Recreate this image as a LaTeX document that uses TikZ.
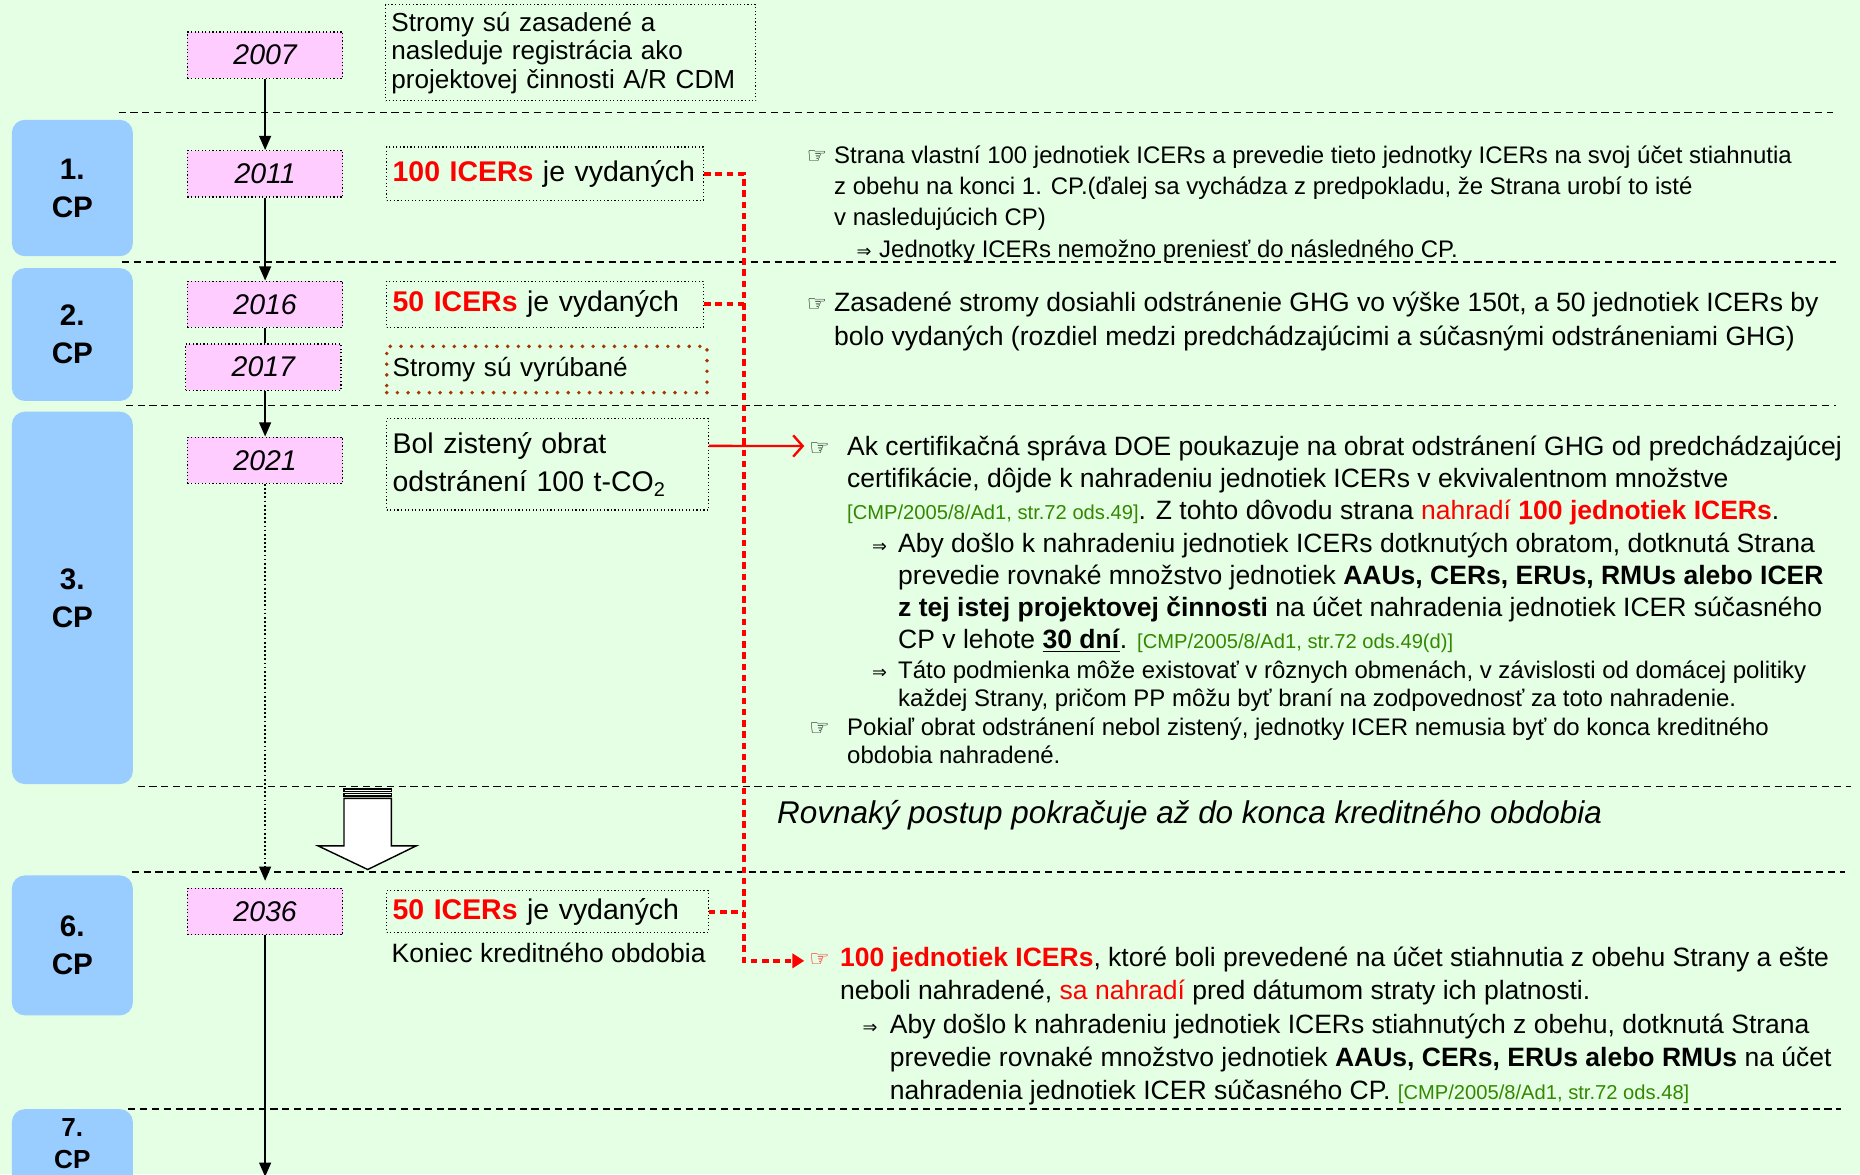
\documentclass[tikz,border=0pt]{standalone}
\usepackage{fontspec}
\setmainfont{Liberation Sans}
\newfontfamily\symfont{DejaVu Sans}
\usetikzlibrary{arrows.meta,calc}
\definecolor{bg}{RGB}{228,255,228}
\definecolor{cpblue}{RGB}{153,204,255}
\definecolor{yearpink}{RGB}{255,204,255}
\definecolor{refgreen}{RGB}{51,136,0}
\definecolor{cutbrown}{RGB}{165,55,0}
\definecolor{icerred}{RGB}{255,0,0}
\newcommand\cmpref[1]{{\fontsize{17}{20}\selectfont\color{refgreen}#1}}
\newcommand\redtxt[1]{{\color{icerred}#1}}
\newcommand\hand{{\symfont\fontsize{19}{20}\selectfont ☞}}
\newcommand\implies{{\symfont\fontsize{15}{18}\selectfont ⇒}}

\begin{document}
\begin{tikzpicture}[x=1pt,y=-1pt,
  cpbox/.style={fill=cpblue,rounded corners=11pt,minimum width=102pt,align=center,
    font=\fontsize{25}{32}\selectfont\bfseries,inner sep=0pt},
  yearbox/.style={draw,dotted,line width=1pt,fill=yearpink,minimum width=131pt,minimum height=39pt,
    inner sep=0pt,font=\fontsize{24}{28}\selectfont\itshape},
  infobox/.style={draw,dotted,line width=1pt,align=left,inner xsep=5pt,inner ysep=0pt},
  sepline/.style={dash pattern=on 6pt off 4pt,line width=1.3pt},
  tl/.style={line width=1.5pt,-{Triangle[length=12pt,width=10pt]}},
  reddot/.style={icerred,line width=3.5pt,dash pattern=on 5.5pt off 4pt},
  ln/.style={anchor=base west,inner sep=0pt,font=\fontsize{22.35}{26}\selectfont},
  lns/.style={anchor=base west,inner sep=0pt,font=\fontsize{20.2}{24}\selectfont},
  sym/.style={anchor=base west,inner sep=0pt}]

% page and background
\fill[bg] (0,0) rectangle (1568,990);
\useasboundingbox (0,0) rectangle (1568,990);
\clip (0,0) rectangle (1568,990);

% period separators
\draw[sepline] (100,95) -- (1545,95);
\draw[sepline] (103,221) -- (1548,221);
\draw[sepline] (106,342) -- (1548,342);
\draw[sepline] (116,663) -- (1560,663);
\draw[sepline] (111,735) -- (1555,735);
\draw[sepline] (108,935) -- (1552,935);

% commitment periods
\node[cpbox,minimum height=115pt] (cp1) at (61,158.5) {1.\\CP};
\node[cpbox,minimum height=112pt] (cp2) at (61,282) {2.\\CP};
\node[cpbox,minimum height=314pt] (cp3) at (61,504) {3.\\CP};
\node[cpbox,minimum height=118pt] (cp6) at (61,797) {6.\\CP};
\node[cpbox,minimum height=80pt] (cp7) at (61,975) {};
\node[align=center,inner sep=0pt,font=\fontsize{22}{27}\selectfont\bfseries] (cp7t) at (61,964) {7.\\CP};

% years
\node[yearbox] (y2007) at (223.5,46.5) {2007};
\node[yearbox] (y2011) at (223.5,146.5) {2011};
\node[yearbox] (y2016) at (223.5,256.5) {2016};
\node[yearbox] (y2017) at (222,309.5) {2017};
\node[yearbox] (y2021) at (223.5,388) {2021};
\node[yearbox] (y2036) at (223.5,768.5) {2036};
\coordinate (tlend) at (223.5,992);

% time line
\draw[tl] (y2007) -- (y2011);
\draw[tl] (y2011) -- (y2016);
\draw[line width=1.5pt] (y2016.south) -- (y2016.south |- y2017.north);
\draw[tl] (y2017.south -| y2021.north) -- (y2021);
\draw[tl,dotted,line width=1.5pt,shorten >=6pt] (y2021) -- (y2036);
\draw[tl] (y2036) -- (tlend);

% events
\node[infobox,minimum width=312pt,minimum height=81pt,text width=302pt,
  font=\fontsize{22}{24}\selectfont] (tplant) at (481,44.5)
  {Stromy sú zasadené a\\nasleduje registrácia ako\\projektovej činnosti A/R CDM};
\node[infobox,minimum width=267pt,minimum height=45pt,text width=257pt,
  font=\fontsize{24}{28}\selectfont] (ticer1) at (459.5,146.5)
  {\redtxt{\textbf{100 ICERs}} je vydaných};
\node[infobox,minimum width=267pt,minimum height=39pt,text width=257pt,
  font=\fontsize{24}{28}\selectfont] (ticer2) at (459.5,256.5)
  {\redtxt{\textbf{50 ICERs}} je vydaných};
\node[infobox,draw=cutbrown,line width=3.3pt,dash pattern=on 0pt off 9pt,line cap=round,
  minimum width=270pt,minimum height=39pt,text width=260pt,
  font=\fontsize{22}{26}\selectfont] (tcut) at (461,311.5)
  {Stromy sú vyrúbané};
\node[infobox,minimum width=271pt,minimum height=77pt,text width=261pt,
  font=\fontsize{24}{32}\selectfont] (trev) at (461.5,391.5)
  {Bol zistený obrat\\odstránení 100 t-CO\textsubscript{2}};
\node[infobox,minimum width=271pt,minimum height=35pt,text width=261pt,
  font=\fontsize{24}{28}\selectfont] (ticer6) at (461.5,768.5)
  {\redtxt{\textbf{50 ICERs}} je vydaných};
\node[ln] (tend) at (330,811) {Koniec kreditného obdobia};

% flow arrow between the periods
\draw[fill=white,line width=1.2pt] (290,665) rectangle (330,667);
\draw[fill=white,line width=1.2pt] (290,669) rectangle (330,671);
\draw[fill=white,line width=1.2pt] (290,673) -- (330,673) -- (330,713) -- (351,713)
  -- (310,733) -- (268,713) -- (290,713) -- cycle;

% block 1
\node[sym] (h1) at (680,138) {\hand};
\node[lns] (b1a) at (703,138) {Strana vlastní 100 jednotiek ICERs a prevedie tieto jednotky ICERs na svoj účet stiahnutia};
\node[lns] (b1b) at (703,164) {z obehu na konci 1. CP.(ďalej sa vychádza z predpokladu, že Strana urobí to isté};
\node[lns] (b1c) at (703,190) {v nasledujúcich CP)};
\node[sym] (i1) at (722,217) {\implies};
\node[lns] (b1d) at (741,217) {Jednotky ICERs nemožno preniesť do následného CP.};

% block 2
\node[sym] (h2) at (680,263) {\hand};
\node[ln] (b2a) at (703,263) {Zasadené stromy dosiahli odstránenie GHG vo výške 150t, a 50 jednotiek ICERs by};
\node[ln] (b2b) at (703,291) {bolo vydaných (rozdiel medzi predchádzajúcimi a súčasnými odstráneniami GHG)};

% block 3
\node[sym] (h3) at (682,384) {\hand};
\node[ln] (b3a) at (714,384) {Ak certifikačná správa DOE poukazuje na obrat odstránení GHG od predchádzajúcej};
\node[ln] (b3b) at (714,411) {certifikácie, dôjde k nahradeniu jednotiek ICERs v ekvivalentnom množstve};
\node[ln] (b3c) at (714,438) {\cmpref{[CMP/2005/8/Ad1, str.72 ods.49]}. Z tohto dôvodu strana \redtxt{nahradí \textbf{100 jednotiek ICERs}}.};
\node[sym] (i2) at (735,466) {\implies};
\node[ln] (b3d) at (757,466) {Aby došlo k nahradeniu jednotiek ICERs dotknutých obratom, dotknutá Strana};
\node[ln] (b3e) at (757,493) {prevedie rovnaké množstvo jednotiek \textbf{AAUs, CERs, ERUs, RMUs alebo ICER}};
\node[ln] (b3f) at (757,520) {\textbf{z tej istej projektovej činnosti} na účet nahradenia jednotiek ICER súčasného};
\node[ln] (b3g) at (757,547) {CP v lehote \underline{\textbf{30 dní}}. \cmpref{[CMP/2005/8/Ad1, str.72 ods.49(d)]}};
\node[sym] (i3) at (735,572) {\implies};
\node[lns] (b3h) at (757,572) {Táto podmienka môže existovať v rôznych obmenách, v závislosti od domácej politiky};
\node[lns] (b3i) at (757,596) {každej Strany, pričom PP môžu byť braní na zodpovednosť za toto nahradenie.};
\node[sym] (h4) at (682,620) {\hand};
\node[lns] (b3j) at (714,620) {Pokiaľ obrat odstránení nebol zistený, jednotky ICER nemusia byť do konca kreditného};
\node[lns] (b3k) at (714,644) {obdobia nahradené.};

% continuation note
\node[anchor=base west,inner sep=0pt,font=\fontsize{26.5}{30}\selectfont\itshape] (cont) at (655,694)
  {Rovnaký postup pokračuje až do konca kreditného obdobia};

% block 4
\node[sym,text=icerred] (h5) at (682,815) {\hand};
\node[ln] (b4a) at (708,815) {\redtxt{\textbf{100 jednotiek ICERs}}, ktoré boli prevedené na účet stiahnutia z obehu Strany a ešte};
\node[ln] (b4b) at (708,843) {neboli nahradené, \redtxt{sa nahradí} pred dátumom straty ich platnosti.};
\node[sym] (i4) at (727,871) {\implies};
\node[ln] (b4c) at (750,871) {Aby došlo k nahradeniu jednotiek ICERs stiahnutých z obehu, dotknutá Strana};
\node[ln] (b4d) at (750,899) {prevedie rovnaké množstvo jednotiek \textbf{AAUs, CERs, ERUs alebo RMUs} na účet};
\node[ln] (b4e) at (750,927) {nahradenia jednotiek ICER súčasného CP. \cmpref{[CMP/2005/8/Ad1, str.72 ods.48]}};

% issued units collected towards the final replacement
\coordinate (rbus) at (627,146.5);
\coordinate (rbot) at (627,810);
\coordinate (rend) at (678,810);
\draw[reddot,-{Triangle[length=10pt,width=12pt]}] (ticer1.east) -- (rbus) -- (rbot) -- (rend);
\draw[reddot] (ticer2.east) -- (rbus |- ticer2.east);
\draw[reddot] (ticer6.east) -- (rbus |- ticer6.east);

% reversal leads to replacement
\coordinate (revout) at ($(trev.north east)!0.3!(trev.south east)$);
\coordinate (revin) at (678,376);
\draw[icerred,line width=2pt,-{Straight Barb[length=8pt,width=18pt,line width=2pt]}] (revout) -- (revin);
\end{tikzpicture}
\end{document}
